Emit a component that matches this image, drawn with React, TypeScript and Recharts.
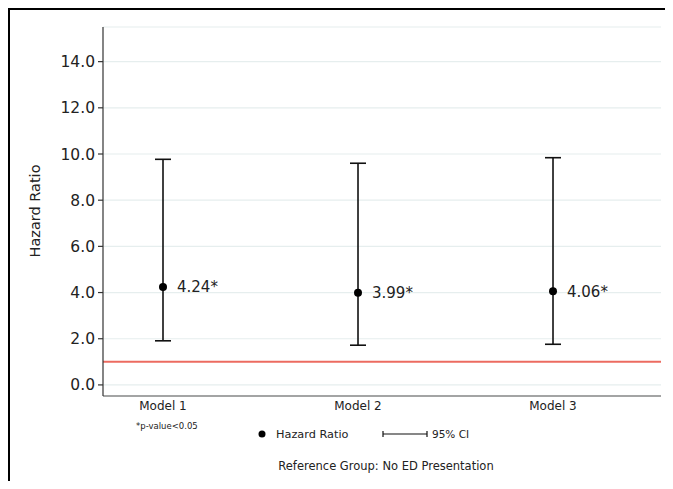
import { ScatterChart, Scatter, XAxis, YAxis, CartesianGrid, ErrorBar, ReferenceLine } from "recharts"

const models = ["Model 1", "Model 2", "Model 3"]
const hazardRatio = [4.24, 3.99, 4.06]
const ciLower = [1.91, 1.72, 1.76]
const ciUpper = [9.77, 9.6, 9.84]
const pointLabels = ["4.24*", "3.99*", "4.06*"]
const yTicks = [0, 2, 4, 6, 8, 10, 12, 14]
const referenceValue = 1

const font = "'DejaVu Sans', sans-serif"

const data = models.map((m, i) => ({
  x: i + 1,
  hr: hazardRatio[i],
  err: [hazardRatio[i] - ciLower[i], ciUpper[i] - hazardRatio[i]],
  label: pointLabels[i],
}))

const PointShape = (props: any) => {
  const { cx, cy, payload } = props
  return (
    <g>
      <circle cx={cx} cy={cy} r={4} fill="#000" />
      <text x={cx + 14} y={cy} dy="0.36em" fontSize={15} fontFamily={font} fill="#222">
        {payload.label}
      </text>
    </g>
  )
}

export default function App() {
  return (
    <div
      style={{
        width: 665,
        height: 473,
        borderTop: "2px solid #000",
        borderLeft: "2px solid #000",
        boxSizing: "border-box",
        background: "#fff",
        overflow: "hidden",
      }}
    >
      <ScatterChart width={663} height={471} margin={{ top: 17, right: 12, left: 0, bottom: 0 }}>
        <CartesianGrid vertical={false} stroke="#e6eeee" strokeWidth={1.2} />
        <XAxis
          type="number"
          dataKey="x"
          domain={[0.6923, 3.5538]}
          ticks={[1, 2, 3]}
          tickFormatter={(v) => models[v - 1]}
          height={85}
          tickLine={false}
          tickSize={5}
          tickMargin={0}
          stroke="#888"
          strokeWidth={1.5}
          tick={{ fontSize: 12, fontFamily: font, fill: "#222" }}
        />
        <YAxis
          type="number"
          dataKey="hr"
          domain={[-0.48, 15.5]}
          ticks={yTicks}
          tickFormatter={(v) => v.toFixed(1)}
          width={93}
          tickSize={5}
          tickMargin={3}
          stroke="#333"
          strokeWidth={1.2}
          tick={{ fontSize: 15.5, fontFamily: font, fill: "#222" }}
        />
        <ReferenceLine y={referenceValue} stroke="#ec6b60" strokeWidth={2} />
        <Scatter data={data} fill="#000" shape={PointShape} isAnimationActive={false}>
          <ErrorBar dataKey="err" direction="y" width={8} stroke="#111" strokeWidth={1.6} />
        </Scatter>
        <g fontFamily={font} fill="#222">
          <text x={25} y={201} transform="rotate(-90 25 201)" textAnchor="middle" dominantBaseline="central" fontSize={14.5}>
            Hazard Ratio
          </text>
          <text x={126} y={419} fontSize={8.5}>
            *p-value&lt;0.05
          </text>
          <circle cx={252} cy={424} r={3.5} fill="#000" />
          <text x={266} y={428} fontSize={11.3}>
            Hazard Ratio
          </text>
          <line x1={373} y1={424} x2={417} y2={424} stroke="#111" strokeWidth={1.2} />
          <line x1={373} y1={421} x2={373} y2={427} stroke="#111" strokeWidth={1.2} />
          <line x1={417} y1={421} x2={417} y2={427} stroke="#111" strokeWidth={1.2} />
          <text x={422} y={428} fontSize={10.5}>
            95% CI
          </text>
          <text x={376} y={460} textAnchor="middle" fontSize={11.5}>
            Reference Group: No ED Presentation
          </text>
        </g>
      </ScatterChart>
    </div>
  )
}
